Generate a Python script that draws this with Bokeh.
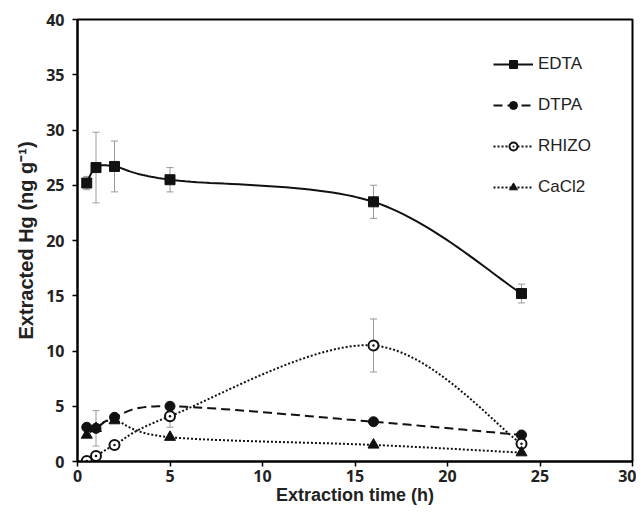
import numpy as np
from bokeh.plotting import figure
from bokeh.models import Legend, LegendItem, ColumnDataSource, Whisker, FixedTicker, Range1d
from bokeh.embed import file_html
from bokeh.resources import INLINE

time_h = [0.5, 1, 2, 5, 16, 24]
edta = [25.2, 26.6, 26.7, 25.5, 23.5, 15.2]
edta_err = [0.6, 3.2, 2.3, 1.1, 1.5, 0.85]
dtpa = [3.1, 3.0, 4.0, 5.0, 3.6, 2.4]
rhizo = [0.05, 0.5, 1.5, 4.1, 10.5, 1.6]
rhizo_err = [0.0, 0.0, 0.0, 1.0, 2.4, 0.0]
cacl2 = [2.4, 3.0, 3.7, 2.2, 1.5, 0.8]
cacl2_err = [0.0, 1.6, 0.0, 0.0, 0.0, 0.0]


def smooth(xs, ys, n=30):
    xs = np.asarray(xs, float)
    ys = np.asarray(ys, float)
    px = np.concatenate([[xs[0]], xs, [xs[-1]]])
    py = np.concatenate([[ys[0]], ys, [ys[-1]]])
    ox, oy = [], []
    for i in range(1, len(px) - 2):
        p0 = np.array([px[i - 1], py[i - 1]])
        p1 = np.array([px[i], py[i]])
        p2 = np.array([px[i + 1], py[i + 1]])
        p3 = np.array([px[i + 2], py[i + 2]])
        c1 = p1 + (p2 - p0) / 6.0
        c2 = p2 - (p3 - p1) / 6.0
        t = np.linspace(0, 1, n)[:, None]
        b = ((1 - t) ** 3) * p1 + 3 * ((1 - t) ** 2) * t * c1 + 3 * (1 - t) * t ** 2 * c2 + t ** 3 * p2
        ox.extend(b[:, 0])
        oy.extend(b[:, 1])
    return ox, oy


p = figure(width=636, height=510, output_backend="svg", toolbar_location=None,
           x_range=Range1d(0, 30), y_range=Range1d(0, 40),
           min_border_left=77, min_border_top=19, min_border_right=4, min_border_bottom=49)
p.xgrid.visible = False
p.ygrid.visible = False
p.outline_line_color = "black"
p.outline_line_width = 2
p.outline_line_alpha = 1

for ax in (p.xaxis[0], p.yaxis[0]):
    ax.axis_line_width = 2
    ax.major_tick_line_width = 1.5
    ax.major_tick_out = 5
    ax.major_tick_in = 0
    ax.minor_tick_line_color = None
    ax.major_label_text_font = "Open Sans"
    ax.major_label_text_font_style = "bold"
    ax.major_label_text_font_size = "16px"
    ax.major_label_text_color = "#222222"
    ax.axis_label_text_font = "Liberation Sans"
    ax.axis_label_text_font_style = "bold"
    ax.axis_label_text_color = "#222222"

p.xaxis.axis_label_text_font_size = "18px"
p.yaxis.axis_label_text_font_size = "20px"
p.xaxis.ticker = FixedTicker(ticks=[0, 5, 10, 15, 20, 25, 30])
p.yaxis.ticker = FixedTicker(ticks=[0, 5, 10, 15, 20, 25, 30, 35, 40])
p.xaxis.axis_label = "Extraction time (h)"
p.yaxis.axis_label = "Extracted Hg (ng g\u207b\u00b9)"
p.xaxis.major_label_standoff = 3
p.yaxis.major_label_standoff = 8
p.xaxis.axis_label_standoff = 0
p.yaxis.axis_label_standoff = 6


def add_err(vals, errs):
    xs, lo, hi = [], [], []
    for x, v, e in zip(time_h, vals, errs):
        if e > 0:
            xs.append(x); lo.append(v - e); hi.append(v + e)
    src = ColumnDataSource(dict(x=xs, lo=lo, hi=hi))
    w = Whisker(source=src, base="x", lower="lo", upper="hi", line_color="#999999", line_width=1)
    w.upper_head.size = 7
    w.lower_head.size = 7
    w.upper_head.line_color = "#999999"
    w.lower_head.line_color = "#999999"
    p.add_layout(w)

add_err(edta, edta_err)
add_err(rhizo, rhizo_err)
add_err(cacl2, cacl2_err)

items = []
sx, sy = smooth(time_h, edta)
l1 = p.line(sx, sy, line_color="#111111", line_width=2)
m1 = p.scatter(time_h, edta, marker="square", size=10, color="#111111")
items.append(LegendItem(label="EDTA", renderers=[l1, m1]))

sx, sy = smooth(time_h, dtpa)
l2 = p.line(sx, sy, line_color="#111111", line_width=2, line_dash="9 5")
m2 = p.scatter(time_h, dtpa, marker="circle", size=10, color="#111111")
items.append(LegendItem(label="DTPA", renderers=[l2, m2]))

sx, sy = smooth(time_h, rhizo)
l3 = p.line(sx, sy, line_color="#111111", line_width=2, line_dash="2 2")
m3 = p.scatter(time_h, rhizo, marker="circle_dot", size=10, line_color="#111111", fill_color="white", line_width=2)
items.append(LegendItem(label="RHIZO", renderers=[l3, m3]))

sx, sy = smooth(time_h, cacl2)
l4 = p.line(sx, sy, line_color="#111111", line_width=2, line_dash="2 2")
m4 = p.scatter(time_h, cacl2, marker="triangle", size=11, color="#111111")
items.append(LegendItem(label="CaCl2", renderers=[l4, m4]))

leg = Legend(items=items, location=(416, 264), border_line_color=None,
             background_fill_alpha=0, glyph_width=40, glyph_height=20,
             spacing=21, label_text_font="Liberation Sans", label_text_font_size="17px",
             label_text_color="#222222", label_standoff=5, padding=0, margin=0)
p.add_layout(leg)

open("out.html", "w").write(file_html(p, INLINE))
